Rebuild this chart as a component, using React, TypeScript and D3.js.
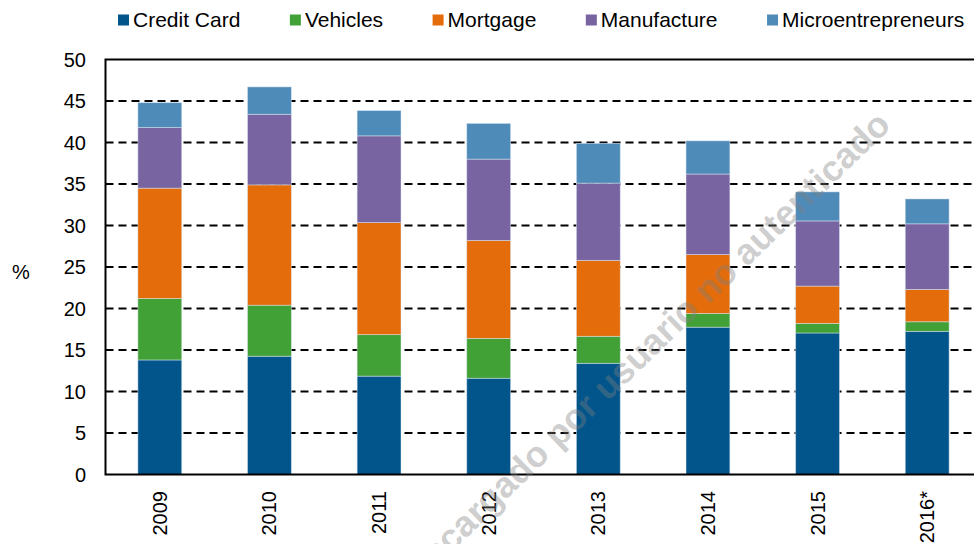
import { useEffect, useRef } from "react";
import * as d3 from "d3";

const years = ["2009", "2010", "2011", "2012", "2013", "2014", "2015", "2016*"];
const seriesNames = ["Credit Card", "Vehicles", "Mortgage", "Manufacture", "Microentrepreneurs"];
const creditCard = [13.8, 14.25, 11.85, 11.6, 13.4, 17.75, 17.05, 17.25];
const vehicles = [7.4, 6.15, 5.0, 4.8, 3.25, 1.65, 1.15, 1.15];
const mortgage = [13.3, 14.5, 13.5, 11.8, 9.15, 7.1, 4.5, 3.9];
const manufacture = [7.3, 8.5, 10.45, 9.8, 9.3, 9.7, 7.85, 7.9];
const microentrepreneurs = [3.0, 3.3, 3.05, 4.3, 4.8, 4.0, 3.5, 3.0];
const yTicks = [0, 5, 10, 15, 20, 25, 30, 35, 40, 45, 50];
const colors = ["#02558B", "#41A036", "#E46C0A", "#7864A1", "#4F8BB9"];

export default function App() {
  const chartRef = useRef<SVGSVGElement>(null);

  useEffect(() => {
    if (!chartRef.current) return;
    d3.select(chartRef.current).selectAll("*").remove();

    const width = 974;
    const height = 544;
    const font = "'Liberation Sans', Arial, sans-serif";

    const rows = years.map((year, i) => ({
      year,
      "Credit Card": creditCard[i],
      Vehicles: vehicles[i],
      Mortgage: mortgage[i],
      Manufacture: manufacture[i],
      Microentrepreneurs: microentrepreneurs[i],
    }));
    const stacked = d3.stack<any>().keys(seriesNames)(rows);

    const svg = d3
      .select(chartRef.current)
      .attr("width", width)
      .attr("height", height)
      .attr("viewBox", `0 0 ${width} ${height}`)
      .style("font-family", font);

    const x = d3
      .scaleBand()
      .domain(years)
      .range([105, 982])
      .paddingInner(0.6)
      .paddingOuter(0.3);

    const y = d3.scaleLinear().domain([0, 50]).range([474.5, 59.5]);
    const axisX = 105.5;

    // dashed gridlines
    svg
      .append("g")
      .selectAll("line")
      .data(yTicks.filter((t) => t > 0 && t < 50))
      .join("line")
      .attr("x1", axisX)
      .attr("x2", width)
      .attr("y1", (d) => y(d))
      .attr("y2", (d) => y(d))
      .attr("stroke", "#000")
      .attr("stroke-width", 1.8)
      .attr("stroke-dasharray", "8,5");

    // bars
    svg
      .append("g")
      .selectAll("g")
      .data(stacked)
      .join("g")
      .attr("fill", (_, i) => colors[i])
      .selectAll("rect")
      .data((d) => d)
      .join("rect")
      .attr("x", (d: any) => x(d.data.year) || 0)
      .attr("width", x.bandwidth())
      .attr("y", (d) => y(d[1]))
      .attr("height", (d) => y(d[0]) - y(d[1]))
      .attr("stroke", "#dce8f4")
      .attr("stroke-opacity", 0.6)
      .attr("stroke-width", 0.8);

    // plot frame: top, left, bottom
    svg
      .append("path")
      .attr("d", `M${width},${y(50)}H${axisX}V${y(0)}H${width}`)
      .attr("fill", "none")
      .attr("stroke", "#000")
      .attr("stroke-width", 2);

    // y tick labels
    svg
      .append("g")
      .selectAll("text")
      .data(yTicks)
      .join("text")
      .attr("x", 86)
      .attr("y", (d) => y(d))
      .attr("dy", "0.36em")
      .attr("text-anchor", "end")
      .style("font-size", "20px")
      .text((d) => d);

    // x labels
    svg
      .append("g")
      .selectAll("text")
      .data(years)
      .join("text")
      .attr("transform", (d) => `translate(${(x(d) || 0) + x.bandwidth() / 2},491) rotate(-90)`)
      .attr("dy", "0.35em")
      .attr("text-anchor", "end")
      .style("font-size", "20px")
      .text((d) => d);

    svg
      .append("text")
      .attr("x", 21)
      .attr("y", 272)
      .attr("dy", "0.36em")
      .attr("text-anchor", "middle")
      .style("font-size", "20px")
      .text("%");

    // legend
    const legend = svg.append("g");
    let lx = 118;
    seriesNames.forEach((name, i) => {
      legend
        .append("rect")
        .attr("x", lx)
        .attr("y", 14.5)
        .attr("width", 11)
        .attr("height", 11)
        .attr("fill", colors[i]);
      const t = legend
        .append("text")
        .attr("x", lx + 15)
        .attr("y", 27.3)
        .style("font-size", "21px")
        .text(name);
      const w = (t.node() as SVGTextElement).getComputedTextLength();
      lx = lx + 15 + w + 49.5;
    });

    // watermark
    svg
      .append("text")
      .attr("transform", "translate(639,354) rotate(-44)")
      .attr("text-anchor", "middle")
      .attr("dy", "0.35em")
      .style("font-size", "36px")
      .style("font-weight", "bold")
      .attr("fill", "#808080")
      .attr("fill-opacity", 0.4)
      .text("Descargado por usuario no autenticado");
  }, []);

  return (
    <svg
      ref={chartRef}
      style={{ position: "fixed", left: 0, top: 0, display: "block", background: "#fff" }}
    ></svg>
  );
}
